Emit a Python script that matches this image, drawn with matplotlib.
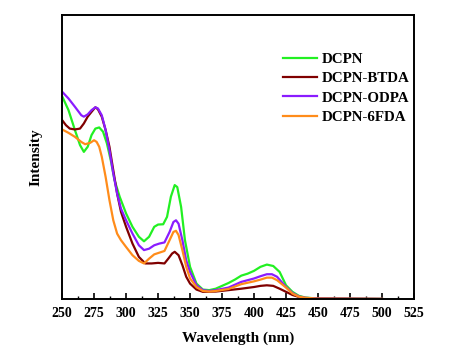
import numpy as np
import matplotlib
matplotlib.use('Agg')
import matplotlib.pyplot as plt
from matplotlib.ticker import MultipleLocator

plt.rcParams['font.family'] = ['Liberation Serif', 'DejaVu Serif']
plt.rcParams['font.weight'] = 'bold'

# Spectra (arbitrary intensity, 0..1 of axis height)
wl_dcpn = [250, 255, 260, 264, 267, 270, 273, 276, 279, 282, 285, 288, 291, 295, 300,
           305, 310, 314, 318, 322, 325, 329, 332, 335, 338, 340, 343, 346, 350, 355,
           360, 365, 370, 375, 380, 385, 390, 395, 400, 405, 410, 415, 420, 425, 430,
           435, 440, 450, 500]
dcpn = [0.714, 0.665, 0.595, 0.542, 0.518, 0.536, 0.577, 0.600, 0.604, 0.589, 0.548,
        0.489, 0.418, 0.360, 0.301, 0.254, 0.219, 0.203, 0.219, 0.254, 0.262, 0.263,
        0.289, 0.360, 0.401, 0.394, 0.324, 0.207, 0.113, 0.054, 0.033, 0.031, 0.036,
        0.046, 0.056, 0.068, 0.082, 0.089, 0.099, 0.113, 0.121, 0.116, 0.095, 0.048,
        0.025, 0.011, 0.005, 0.001, 0.0]

wl_odpa = [250, 255, 260, 265, 267, 270, 273, 276, 278, 281, 284, 287, 290, 293, 296,
           300, 305, 310, 314, 318, 322, 326, 330, 334, 337, 339, 341, 344, 347, 350,
           355, 360, 365, 370, 380, 390, 400, 405, 410, 414, 418, 425, 430, 435, 440,
           450, 500]
odpa = [0.730, 0.706, 0.677, 0.647, 0.642, 0.650, 0.665, 0.675, 0.671, 0.647, 0.595,
        0.524, 0.442, 0.371, 0.318, 0.277, 0.230, 0.189, 0.172, 0.177, 0.189, 0.195,
        0.199, 0.236, 0.271, 0.277, 0.265, 0.207, 0.136, 0.095, 0.048, 0.031, 0.028,
        0.031, 0.040, 0.060, 0.072, 0.080, 0.087, 0.087, 0.078, 0.042, 0.021, 0.009,
        0.004, 0.001, 0.0]

wl_btda = [250, 253, 256, 260, 264, 267, 270, 273, 276, 278, 281, 284, 287, 290, 293,
           296, 300, 305, 310, 315, 320, 325, 330, 333, 336, 338, 341, 344, 347, 350,
           355, 360, 370, 380, 390, 400, 405, 410, 415, 420, 425, 430, 435, 440, 500]
btda = [0.630, 0.612, 0.600, 0.597, 0.600, 0.618, 0.642, 0.659, 0.675, 0.668, 0.642,
        0.595, 0.536, 0.453, 0.371, 0.307, 0.254, 0.195, 0.148, 0.125, 0.125, 0.127,
        0.125, 0.142, 0.160, 0.166, 0.154, 0.119, 0.078, 0.054, 0.033, 0.025, 0.026,
        0.031, 0.036, 0.042, 0.046, 0.048, 0.046, 0.036, 0.025, 0.014, 0.007, 0.002,
        0.0]

wl_6fda = [250, 255, 260, 265, 268, 272, 275, 277, 279, 281, 284, 287, 290, 293, 296,
           300, 305, 310, 314, 318, 322, 326, 330, 334, 337, 339, 341, 344, 347, 350,
           355, 360, 365, 370, 380, 390, 400, 405, 410, 414, 418, 425, 430, 435, 440,
           450, 500]
fda6 = [0.597, 0.585, 0.571, 0.553, 0.545, 0.550, 0.559, 0.553, 0.536, 0.501, 0.430,
        0.348, 0.277, 0.230, 0.207, 0.183, 0.154, 0.134, 0.125, 0.142, 0.157, 0.163,
        0.169, 0.207, 0.236, 0.240, 0.225, 0.172, 0.113, 0.072, 0.042, 0.028, 0.026,
        0.028, 0.035, 0.052, 0.062, 0.068, 0.075, 0.075, 0.066, 0.040, 0.019, 0.008,
        0.004, 0.001, 0.0]

fig = plt.figure(figsize=(4.6, 3.58), dpi=100)
ax = fig.add_axes([0.135, 0.165, 0.765, 0.793])

ax.plot(wl_dcpn, dcpn, color='#22f022', lw=1.6, label='DCPN')
ax.plot(wl_btda, btda, color='#800000', lw=1.6, label='DCPN-BTDA')
ax.plot(wl_odpa, odpa, color='#8a1cff', lw=1.6, label='DCPN-ODPA')
ax.plot(wl_6fda, fda6, color='#ff8c1a', lw=1.6, label='DCPN-6FDA')

ax.set_xlim(250, 525)
ax.set_ylim(0, 1)
ax.xaxis.set_major_locator(MultipleLocator(25))
ax.xaxis.set_minor_locator(MultipleLocator(12.5))
ax.tick_params(axis='x', which='major', direction='in', length=4, width=1.2,
               labelsize=10, pad=6)
ax.tick_params(axis='x', which='minor', direction='in', length=2, width=1)
ax.set_yticks([])
for s in ax.spines.values():
    s.set_linewidth(1.4)

ax.set_xlabel('Wavelength (nm)', fontsize=11, fontweight='bold', labelpad=8)
ax.set_ylabel('Intensity', fontsize=11, fontweight='bold', labelpad=14)

ax.legend(loc='upper left', bbox_to_anchor=(0.589, 0.915), frameon=False,
          handlelength=2.3, handletextpad=0.3, labelspacing=0.38,
          prop={'weight': 'bold', 'size': 10.8})

fig.savefig('out.png', dpi=100)
